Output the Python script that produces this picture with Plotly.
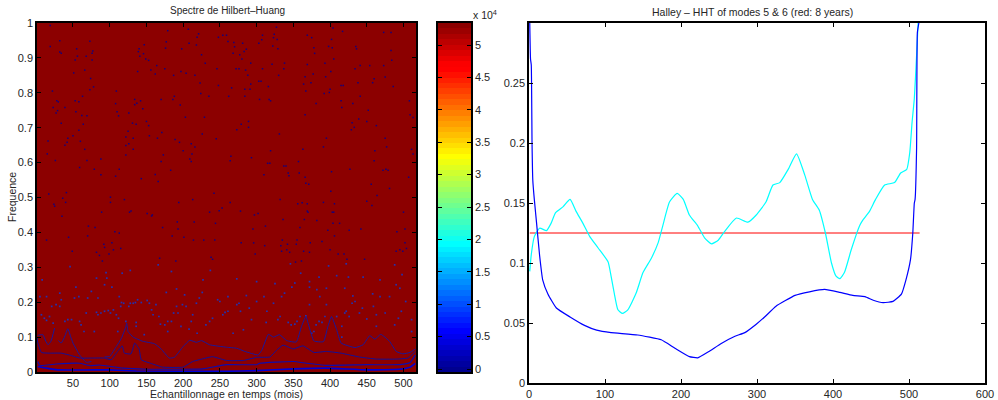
import numpy as np
import plotly.graph_objects as go

# ---- left panel data: background level of the spectrum
SPECTRUM_X_EDGES = [1, 517]
SPECTRUM_Y_EDGES = [0, 1]
BACKGROUND = [[5.34e4]]
Z_MIN, Z_MAX = -0.046e4, 5.34e4

# ridges (x in months, y frequency)
ridge_a_x = [2, 9, 13, 16, 20, 25, None, 30, 34, 38, 43, 47, 50, 59, 68, 75]
ridge_a_y = [.105, .107, .088, .078, .088, .126, None, .090, .083, .098, .124, .100, .083, .049, .028, .030]
ridge_b_x = [93, 100, 109, 116, 122, 123, 125, 132, 145, 161, 170, 181, 188, 200, 209, 218, 225, 236, 259, 273, 284, 302, 307, 316, 323, 331, 341, 354, 361, 367, 372, 378, 391, 397, 402, 409, 415, 434, 445, 454, 461, 469, 481, 490, 499, 509, 516]
ridge_b_y = [.043, .045, .073, .097, .130, .140, .116, .100, .088, .081, .066, .040, .042, .073, .091, .085, .090, .078, .071, .068, .059, .049, .062, .108, .100, .107, .090, .086, .130, .159, .126, .089, .087, .130, .159, .121, .083, .070, .078, .104, .094, .108, .088, .059, .052, .056, .066]
ridge_c_x = [1, 2, 7, 18, 34, 48, 59, 77, 93, 102, 109, 117, 120, 129, 134, 140, 143, 157, 172, 200, 213, 231, 240, 259, 282, 300, 318, 327, 336, 350, 363, 378, 395, 415, 440, 463, 490, 506, 516]
ridge_c_y = [.100, .085, .056, .054, .054, .047, .040, .040, .040, .035, .054, .075, .054, .052, .083, .066, .035, .024, .014, .014, .030, .040, .044, .033, .033, .042, .043, .062, .077, .066, .075, .056, .059, .054, .043, .037, .037, .040, .059]
ridge_d_x = [2, 5, 27, 59, 73, 86, 118, 150, 186, 227, 259, 300, 304, 350, 368, 395, 450, 495, 509, 516]
ridge_d_y = [.030, .019, .023, .025, .018, .020, .011, .008, .008, .009, .021, .021, .025, .030, .025, .019, .021, .021, .027, .049]
ridge_e_x = [2, 14, 29, 77, 100, 136, 259, 300, 350, 395, 450, 495, 509, 516]
ridge_e_y = [.016, .011, .006, .006, .006, .003, .002, .004, .009, .011, .006, .008, .014, .025]

# speckles above the ridges
speckle_x = [19,19,32,73,55,77,76,32,34,56,68,53,76,66,51,74,78,73,22,63,53,58,28,30,39,23,29,27,54,62,69,34,64,58,50,43,16,42,60,179,207,221,219,177,208,147,140,139,146,141,176,198,218,225,149,153,164,230,138,156,175,197,204,187,162,216,246,223,248,109,224,235,134,142,137,134,170,186,188,108,196,145,110,126,112,203,229,131,136,150,153,125,171,122,132,154,165,189,195,226,245,248,254,
327,324,308,259,323,328,307,261,269,281,303,322,270,329,286,283,268,277,280,292,321,338,276,272,285,308,337,288,330,306,303,292,316,266,284,291,262,284,304,317,319,289,279,289,273,331,404,417,473,483,369,375,402,378,398,403,435,436,483,379,405,484,369,393,441,454,473,434,401,377,366,394,460,475,374,364,438,458,415,418,486,367,400,392,399,441,415,381,431,416,452,366,509,439,450,430,463,433,429,513,395,475,508,
39,66,15,26,69,88,59,79,113,88,108,143,162,166,183,170,173,122,122,132,126,200,212,216,211,209,211,17,41,36,40,24,25,35,101,101,120,89,129,127,151,158,157,194,213,242,236,249,253,192,215,172,193,244,71,80,107,113,70,44,14,185,201,214,228,243,92,103,93,105,115,49,82,86,99,90,168,190,238,240,
319,363,391,265,264,293,315,318,337,340,357,310,343,344,358,366,367,371,402,427,461,477,511,513,460,472,476,479,507,456,481,401,464,264,332,356,362,369,391,406,450,457,278,297,302,369,370,403,405,500,336,365,382,404,413,312,359,295,397,426,442,491,502,406,279,296,335,355,311,333,342,354,373,389,502,298,334,341,345,364,372,400,411,419,490,495,499,504,353,361,423,447]
speckle_y = [.993,.933,.949,.948,.926,.920,.913,.917,.913,.905,.905,.894,.894,.865,.857,.841,.817,.809,.805,.790,.777,.774,.777,.774,.758,.758,.749,.742,.746,.735,.734,.713,.710,.693,.677,.670,.662,.658,.661,.978,.982,.969,.959,.946,.942,.938,.926,.918,.912,.905,.928,.926,.937,.909,.897,.893,.878,.885,.861,.865,.869,.861,.856,.850,.854,.850,.869,.828,.821,.805,.798,.790,.781,.777,.770,.766,.781,.781,.790,.769,.765,.754,.746,.742,.734,.730,.730,.713,.710,.718,.706,.690,.686,.673,.670,.677,.670,.666,.658,.682,.668,.959,.965,
.988,.968,.965,.965,.958,.953,.952,.947,.944,.942,.942,.934,.932,.926,.925,.918,.913,.909,.897,.885,.882,.885,.869,.869,.865,.869,.869,.850,.850,.833,.833,.825,.818,.814,.810,.810,.790,.790,.781,.781,.777,.718,.710,.701,.694,.682,.986,.976,.973,.973,.965,.958,.953,.929,.933,.929,.933,.926,.921,.913,.897,.893,.881,.885,.878,.878,.878,.869,.861,.854,.846,.846,.840,.845,.829,.825,.829,.829,.821,.821,.818,.805,.810,.798,.801,.790,.777,.769,.769,.758,.750,.737,.737,.725,.718,.714,.706,.701,.694,.729,.670,.670,.777,
.650,.638,.625,.606,.606,.610,.586,.581,.581,.565,.561,.554,.566,.546,.578,.603,.622,.622,.649,.638,.654,.634,.625,.645,.603,.610,.654,.510,.514,.498,.486,.481,.475,.446,.501,.486,.494,.458,.461,.458,.454,.450,.447,.486,.494,.512,.458,.462,.470,.430,.430,.414,.410,.426,.418,.414,.402,.398,.390,.386,.378,.390,.386,.378,.378,.378,.366,.370,.357,.350,.354,.346,.343,.334,.338,.318,.326,.318,.329,.323,
.634,.638,.645,.618,.605,.614,.598,.598,.590,.590,.603,.565,.570,.562,.570,.558,.541,.538,.574,.581,.634,.645,.638,.625,.605,.578,.581,.578,.558,.538,.526,.518,.506,.486,.494,.482,.485,.482,.486,.482,.489,.477,.461,.450,.454,.461,.458,.458,.458,.458,.437,.437,.434,.426,.426,.418,.414,.410,.406,.406,.410,.402,.410,.390,.370,.370,.378,.378,.362,.362,.366,.366,.370,.374,.370,.338,.346,.350,.343,.346,.343,.350,.338,.338,.346,.350,.346,.354,.315,.318,.323,.323]

# brighter speckles of the 0.1-0.3 band
band_x = [82,84,88,93,98,101,105,109,112,115,113,116,119,126,128,132,135,138,143,151,154,157,159,163,167,169,175,179,184,187,191,193,199,202,204,211,213,218,222,226,231,236,240,247,250,254,257,7,11,14,18,21,27,32,34,39,43,48,54,52,58,70,75,84,59,61,65,79,93,96,82,8,46,95,128,117,166,184,237,227,103,191,177,111,122,136,147,179,197,208,219,136,23,5,14,32,68,
261,273,276,278,286,290,300,310,314,323,332,334,338,343,347,352,355,359,367,375,378,381,385,389,393,395,409,416,420,422,426,430,431,434,440,444,450,458,463,468,475,481,488,493,497,503,511,273,300,325,346,352,348,360,372,372,382,386,395,385,398,409,420,422,425,445,468,490,495,498,488,268,282,313,329,416,463,511,293,261,372,459]
band_y = [.171,.164,.169,.174,.176,.169,.178,.164,.154,.188,.216,.199,.197,.188,.197,.197,.199,.207,.199,.205,.197,.178,.164,.193,.159,.137,.135,.145,.145,.169,.188,.169,.193,.221,.188,.145,.164,.197,.212,.228,.135,.145,.154,.207,.202,.164,.171,.164,.154,.148,.159,.188,.193,.226,.207,.145,.150,.150,.243,.212,.216,.212,.231,.212,.145,.135,.116,.116,.250,.269,.269,.264,.302,.285,.291,.283,.307,.288,.291,.264,.243,.238,.228,.116,.145,.142,.107,.116,.131,.123,.111,.131,.140,.216,.216,.188,.169,
.216,.193,.197,.174,.219,.183,.202,.216,.174,.197,.159,.216,.226,.142,.135,.137,.145,.159,.161,.111,.116,.135,.145,.142,.159,.193,.159,.131,.169,.174,.159,.197,.218,.202,.169,.183,.152,.224,.164,.216,.169,.216,.135,.154,.174,.202,.150,.267,.259,.253,.310,.255,.243,.283,.259,.243,.236,.216,.240,.272,.304,.276,.240,.310,.272,.272,.264,.250,.240,.279,.307,.111,.121,.142,.150,.100,.131,.116,.150,.174,.193,.188]

# ---- right panel data
cyan_x = [1,3,7,14,23,29,35,45,54,62,71,80,91,104,108,113,117,123,130,141,150,161,170,176,185,195,203,211,222,231,240,249,257,273,288,299,312,321,330,341,352,363,373,382,390,398,404,409,415,424,435,439,448,456,468,481,489,497,501,504,507,510,512]
cyan_y = [.093,.107,.122,.129,.127,.133,.142,.147,.153,.143,.133,.122,.1125,.101,.089,.072,.061,.058,.061,.075,.092,.104,.117,.131,.151,.158,.153,.140,.131,.121,.116,.119,.126,.1375,.134,.140,.151,.165,.167,.178,.191,.173,.153,.144,.125,.100,.089,.087,.092,.111,.131,.1355,.143,.153,.165,.167,.175,.178,.192,.217,.237,.273,.30]
blue_x = [1,2,3,4,5,7,10,14,18,25,36,54,73,89,108,143,174,192,211,222,236,253,271,284,299,310,325,350,369,389,409,426,442,453,466,479,490,496,502,505,507,508,510,511,513]
blue_y = [.30,.27,.265,.20,.169,.153,.133,.106,.086,.074,.0625,.055,.048,.044,.042,.040,.036,.029,.022,.021,.026,.033,.039,.042,.049,.055,.064,.073,.076,.078,.0755,.073,.072,.069,.067,.068,.074,.086,.103,.125,.15,.153,.196,.292,.30]
red_x = [1, 514]
red_y = [.125, .125]

# ---- tick labels and text
left_xticks = [50, 100, 150, 200, 250, 300, 350, 400, 450, 500]
left_yticks = [0, .1, .2, .3, .4, .5, .6, .7, .8, .9, 1]
cbar_ticks = [0, .5, 1, 1.5, 2, 2.5, 3, 3.5, 4, 4.5, 5]
right_xticks = [0, 100, 200, 300, 400, 500, 600]
right_yticks = [0, .05, .1, .15, .2, .25]

# MATLAB "jet" with 64 discrete steps
N = 64
v = (np.arange(N) + 1) / N
r = np.clip(np.minimum(4 * v - 1.5, 4.55 - 4 * v), 0, 1)
g = np.clip(np.minimum(4 * v - 0.5, 3.5 - 4 * v), 0, 1)
b = np.clip(np.minimum(4 * v + 0.5, 2.5 - 4 * v), 0, 1)
cols = [f"rgb({int(r[i]*255)},{int(g[i]*255)},{int(b[i]*255)})" for i in range(N)]
scale = []
for i, c in enumerate(cols):
    scale += [[i / N, c], [(i + 1) / N, c]]

edges = np.linspace(Z_MIN, Z_MAX, N + 1)
levels = (edges[:-1] + edges[1:]) / 2

W, H = 998, 400
def dx(a, b): return [a / W, b / W]
def dy(top, bot): return [1 - bot / H, 1 - top / H]

FONT = "Liberation Sans, Arial, sans-serif"
TC = "#262626"
fig = go.Figure()

fig.add_trace(go.Heatmap(x=SPECTRUM_X_EDGES, y=SPECTRUM_Y_EDGES, z=BACKGROUND, zmin=Z_MIN, zmax=Z_MAX,
                         colorscale=scale, showscale=False, hoverinfo="skip", xaxis="x", yaxis="y"))
fig.add_trace(go.Scatter(x=speckle_x, y=speckle_y, mode="markers", xaxis="x", yaxis="y", showlegend=False,
                         marker=dict(symbol="square", size=1.5, color="#14007c", line_width=0)))
fig.add_trace(go.Scatter(x=band_x, y=band_y, mode="markers", xaxis="x", yaxis="y", showlegend=False,
                         marker=dict(symbol="square", size=1.7, color="#2232b0", line_width=0)))
for xs, ys, col, w in [(ridge_a_x, ridge_a_y, "#18189c", 1), (ridge_b_x, ridge_b_y, "#18189c", 1),
                       (ridge_c_x, ridge_c_y, "#10109c", 1), (ridge_d_x, ridge_d_y, "#0c0cb0", 1.1),
                       (ridge_e_x, ridge_e_y, "#0000d8", 1.6)]:
    fig.add_trace(go.Scatter(x=xs, y=ys, mode="lines", xaxis="x", yaxis="y", showlegend=False,
                             line=dict(color=col, width=w, shape="spline", smoothing=0.4)))

fig.add_trace(go.Heatmap(x=[0, 1], y=edges.tolist(), z=[[float(l)] for l in levels], zmin=Z_MIN, zmax=Z_MAX,
                         colorscale=scale, showscale=False, hoverinfo="skip", xaxis="x2", yaxis="y2"))

fig.add_trace(go.Scatter(x=red_x, y=red_y, mode="lines", xaxis="x3", yaxis="y3", showlegend=False,
                         line=dict(color="#ff0000", width=1)))
fig.add_trace(go.Scatter(x=cyan_x, y=cyan_y, mode="lines", xaxis="x3", yaxis="y3", showlegend=False,
                         line=dict(color="#00ffff", width=1.2, shape="spline", smoothing=0.5)))
fig.add_trace(go.Scatter(x=blue_x, y=blue_y, mode="lines", xaxis="x3", yaxis="y3", showlegend=False,
                         line=dict(color="#0000ff", width=1.2, shape="spline", smoothing=0.4)))

ax = dict(showgrid=False, zeroline=False, showline=True, linecolor="#000000", linewidth=1.5, mirror="ticks",
          ticks="inside", ticklen=4, tickcolor="#000000", tickwidth=1, automargin=False,
          tickfont=dict(family=FONT, size=11, color=TC))

fig.update_layout(
    width=W, height=H, autosize=False, margin=dict(l=0, r=0, t=0, b=0),
    paper_bgcolor="white", plot_bgcolor="white", showlegend=False,
    font=dict(family=FONT, size=10, color=TC),
    xaxis=dict(ax, domain=dx(37, 416), range=[1, 517], tickvals=left_xticks,
               title=dict(text="Echantillonnage en temps (mois)", font=dict(family=FONT, size=10.5, color=TC), standoff=1)),
    yaxis=dict(ax, domain=dy(23, 372), range=[0, 1], tickvals=left_yticks),
    xaxis2=dict(ax, domain=dx(438, 471), range=[0, 1], tickvals=[], anchor="y2"),
    yaxis2=dict(ax, domain=dy(23, 372), range=[Z_MIN, Z_MAX], side="right", anchor="x2",
                tickvals=[t * 1e4 for t in cbar_ticks], ticktext=[f"{t:g}" for t in cbar_ticks]),
    xaxis3=dict(ax, domain=dx(529, 985), range=[0, 600], tickvals=right_xticks, anchor="y3"),
    yaxis3=dict(ax, domain=dy(23, 383), range=[0, .3], tickvals=right_yticks,
                ticktext=[f"{t:g}" for t in right_yticks], anchor="x3"),
    annotations=[
        dict(text="Spectre de Hilbert–Huang", xref="paper", yref="paper", x=227 / W, y=1 - 11 / H, showarrow=False,
             font=dict(family=FONT, size=10, color=TC), xanchor="center", yanchor="middle"),
        dict(text="Halley – HHT of modes 5 &amp; 6 (red: 8 years)", xref="paper", yref="paper", x=752 / W, y=1 - 12 / H,
             showarrow=False, font=dict(family=FONT, size=10.5, color=TC), xanchor="center", yanchor="middle"),
        dict(text="x 10<sup>4</sup>", xref="paper", yref="paper", x=471 / W, y=1 - 14 / H, showarrow=False,
             font=dict(family=FONT, size=10.5, color=TC), xanchor="left", yanchor="middle"),
        dict(text="Frequence", xref="paper", yref="paper", x=12 / W, y=1 - 197 / H, showarrow=False, textangle=-90,
             font=dict(family=FONT, size=10.5, color=TC), xanchor="center", yanchor="middle"),
    ],
)
fig.write_html("out.html", post_script="document.body.style.margin='0';", config={"displayModeBar": False})
